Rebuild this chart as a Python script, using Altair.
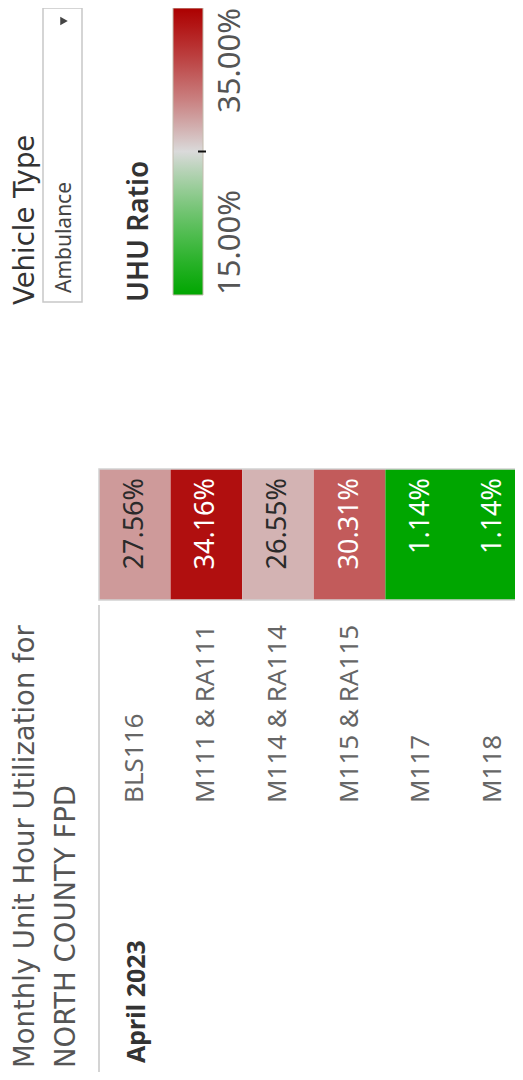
import altair as alt
import pandas as pd

# ---- data ----
units = ["BLS116", "M111 & RA111", "M114 & RA114", "M115 & RA115", "M117", "M118"]
ratios = [0.2756, 0.3416, 0.2655, 0.3031, 0.0114, 0.0114]
month = "April 2023"
legend_min = 0.15
legend_mid = 0.25
legend_max = 0.35
title_lines = ["Monthly Unit Hour Utilization for", "NORTH COUNTY FPD"]
filter_title = "Vehicle Type"
filter_value = "Ambulance"
legend_title = "UHU Ratio"

FONT = "Noto Sans"
EDGE_FONT = "DejaVu Sans"
GRAY = (218, 218, 218)
RED = (172, 0, 0)
GREEN = (0, 166, 0)


def hsv_mix(end, t):
    v0 = GRAY[0] / 255
    v1 = max(end) / 255
    v = v0 + (v1 - v0) * t
    lo = v * (1 - t)
    rgb = [v if c > 0 else lo for c in end]
    return "#%02x%02x%02x" % tuple(int(round(c * 255)) for c in rgb)


n = 8
dom, rng = [], []
for i in range(n + 1):
    t = 1 - i / n
    dom.append(legend_mid - (legend_mid - legend_min) * t)
    rng.append(hsv_mix(GREEN, t))
for i in range(1, n + 1):
    t = i / n
    dom.append(legend_mid + (legend_max - legend_mid) * t)
    rng.append(hsv_mix(RED, t))

color_scale = alt.Scale(domain=dom, range=rng, interpolate="rgb", clamp=True)
gradient = alt.LinearGradient(
    gradient="linear",
    stops=[alt.GradientStop(color=c, offset=(d - legend_min) / (legend_max - legend_min)) for d, c in zip(dom, rng)],
    x1=0, x2=0, y1=1, y2=0,
)

df = pd.DataFrame({"unit": units, "ratio": ratios, "month": [month] * len(units)})
one = pd.DataFrame({"a": [0]})

xs = alt.Scale(domain=units, range=[91, 520.6], paddingInner=0, paddingOuter=0)
ys = alt.Scale(domain=[month], range=[461, 592], paddingInner=0, paddingOuter=0)

cells = alt.Chart(df).mark_rect().encode(
    x=alt.X("unit:N", scale=xs, axis=None),
    y=alt.Y("month:N", scale=ys, axis=None),
    color=alt.Color("ratio:Q", scale=color_scale, legend=None),
)
frame = alt.Chart(one).mark_rect(filled=False, stroke="#d2d2d2", strokeWidth=1.5).encode(
    x=alt.value(91), x2=alt.value(540), y=alt.value(461), y2=alt.value(592)
)
vals = alt.Chart(df).mark_text(angle=270, align="right", baseline="middle", font=FONT, fontSize=27).encode(
    x=alt.X("unit:N", scale=xs, axis=None),
    y=alt.value(470),
    text=alt.Text("ratio:Q", format=".2%"),
    color=alt.condition("datum.ratio > 0.2 && datum.ratio < 0.29", alt.value("#2a2a2a"), alt.value("#ffffff")),
)
unit_labels = alt.Chart(df).mark_text(angle=270, align="left", baseline="middle", font=FONT, fontSize=26, color="#666666").encode(
    x=alt.X("unit:N", scale=xs, axis=None),
    y=alt.value(795),
    text="unit:N",
)
separator = alt.Chart(one).mark_rule(color="#d4d4d4", strokeWidth=2).encode(
    x=alt.value(91), y=alt.value(597), y2=alt.value(1072)
)
table = alt.layer(cells, frame, vals, unit_labels, separator)

# ---- legend ----
leg_scale = alt.Scale(domain=[legend_min, legend_max], range=[287, 0])
ldf = pd.DataFrame({"lo": [legend_min], "hi": [legend_max]})
bar = alt.Chart(ldf).mark_rect(fill=gradient, stroke="#c4bcae", strokeWidth=1).encode(
    x=alt.value(165), x2=alt.value(195),
    y=alt.Y("lo:Q", scale=leg_scale, axis=None), y2="hi:Q",
)
tick = alt.Chart(pd.DataFrame({"v": [legend_mid]})).mark_rule(color="#111111", strokeWidth=2).encode(
    x=alt.value(190), x2=alt.value(198), y=alt.Y("v:Q", scale=leg_scale, axis=None)
)
lab_max = alt.Chart(pd.DataFrame({"v": [legend_max]})).mark_text(
    angle=270, align="right", baseline="alphabetic", font=FONT, fontSize=31, color="#555555"
).encode(x=alt.value(232), y=alt.Y("v:Q", scale=leg_scale, axis=None), text=alt.Text("v:Q", format=".2%"))
lab_min = alt.Chart(pd.DataFrame({"v": [legend_min]})).mark_text(
    angle=270, align="left", baseline="alphabetic", font=FONT, fontSize=31, color="#555555"
).encode(x=alt.value(232), y=alt.Y("v:Q", scale=leg_scale, axis=None), text=alt.Text("v:Q", format=".2%"))
legend = alt.layer(bar, tick, lab_max, lab_min)


def label(txt, x, y, size, color, weight="normal", align="left", font=FONT):
    return alt.Chart(pd.DataFrame({"t": [txt]})).mark_text(
        angle=270, align=align, baseline="alphabetic", font=font, fontSize=size, fontWeight=weight, color=color
    ).encode(x=alt.value(x), y=alt.value(y), text="t:N")


box = alt.Chart(one).mark_rect(fill="white", stroke="#c8c8c8", strokeWidth=1.5).encode(
    x=alt.value(35), x2=alt.value(74), y=alt.value(0), y2=alt.value(294)
)
arrow = alt.Chart(one).mark_point(shape="triangle-right", filled=True, size=75, color="#444444", opacity=1).encode(
    x=alt.value(56), y=alt.value(13)
)

decor = [
    label(title_lines[0], 26, 1060, 27.5, "#555555", font=EDGE_FONT),
    label(title_lines[1], 67, 1060, 27.5, "#555555", font=EDGE_FONT),
    label(month, 137, 1055, 25, "#333333", weight="bold"),
    label(filter_title, 26, 297, 27.5, "#333333", font=EDGE_FONT),
    box,
    label(filter_value, 63, 285, 21, "#444444"),
    arrow,
    label(legend_title, 140, 294, 28, "#333333", weight=600),
]

chart = (
    alt.layer(table, legend, *decor)
    .resolve_scale(x="independent", y="independent", color="independent")
    .properties(width=507, height=1064, padding=0, autosize=alt.AutoSizeParams(type="none"))
    .configure_view(stroke=None)
)

chart.save("out.html", embed_options={"renderer": "svg", "actions": False})
